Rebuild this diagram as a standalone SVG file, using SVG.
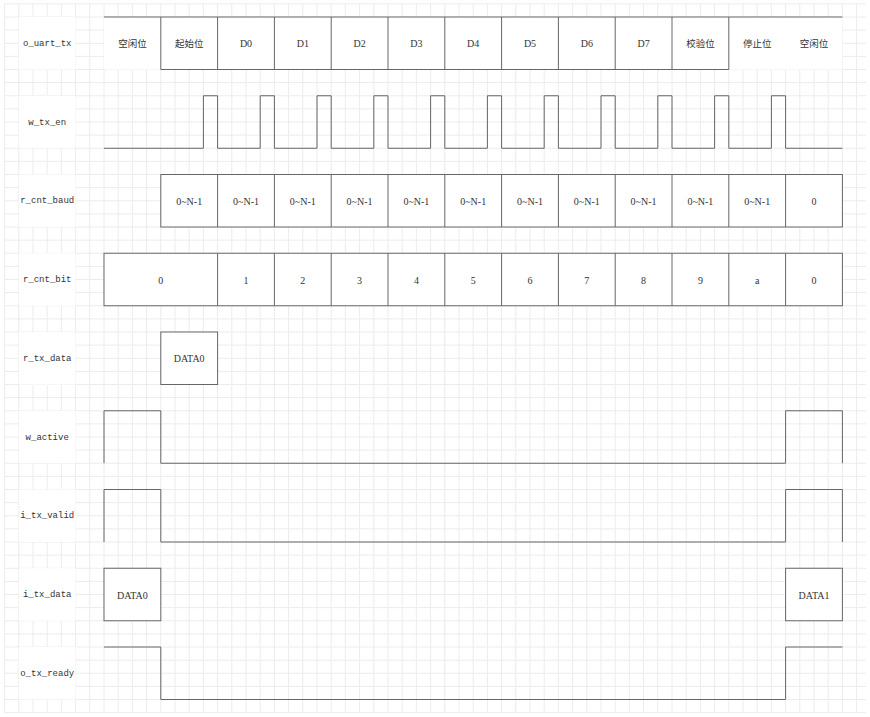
<svg xmlns="http://www.w3.org/2000/svg" width="870" height="717" viewBox="0 0 870 717">
<style>
.grid{fill:none;stroke:#ececec;stroke-width:1}
.w{fill:none;stroke:#666;stroke-width:1}
.box{fill:#fff;stroke:#666;stroke-width:1}
.bg{fill:#fff;stroke:none}
.t{font-family:"Liberation Mono",monospace;font-size:9px;fill:#333;text-anchor:middle;dominant-baseline:central}
.v{font-family:"Liberation Serif",serif;font-size:10px;fill:#333;text-anchor:middle;dominant-baseline:central}
.c{font-family:"Noto Sans CJK SC",sans-serif;font-size:9.5px;fill:#333;text-anchor:middle;dominant-baseline:central}
</style>
<rect width="870" height="717" fill="#fff"/>
<g id="grid">
<path class="grid" d="M4.6 3.9V712.65M18.8 3.9V712.65M33 3.9V712.65M47.2 3.9V712.65M61.4 3.9V712.65M75.6 3.9V712.65M89.8 3.9V712.65M104 3.9V712.65M118.2 3.9V712.65M132.4 3.9V712.65M146.6 3.9V712.65M160.8 3.9V712.65M175 3.9V712.65M189.2 3.9V712.65M203.4 3.9V712.65M217.6 3.9V712.65M231.8 3.9V712.65M246 3.9V712.65M260.2 3.9V712.65M274.4 3.9V712.65M288.6 3.9V712.65M302.8 3.9V712.65M317 3.9V712.65M331.2 3.9V712.65M345.4 3.9V712.65M359.6 3.9V712.65M373.8 3.9V712.65M388 3.9V712.65M402.2 3.9V712.65M416.4 3.9V712.65M430.6 3.9V712.65M444.8 3.9V712.65M459 3.9V712.65M473.2 3.9V712.65M487.4 3.9V712.65M501.6 3.9V712.65M515.8 3.9V712.65M530 3.9V712.65M544.2 3.9V712.65M558.4 3.9V712.65M572.6 3.9V712.65M586.8 3.9V712.65M601 3.9V712.65M615.2 3.9V712.65M629.4 3.9V712.65M643.6 3.9V712.65M657.8 3.9V712.65M672 3.9V712.65M686.2 3.9V712.65M700.4 3.9V712.65M714.6 3.9V712.65M728.8 3.9V712.65M743 3.9V712.65M757.2 3.9V712.65M771.4 3.9V712.65M785.6 3.9V712.65M799.8 3.9V712.65M814 3.9V712.65M828.2 3.9V712.65M842.4 3.9V712.65M856.6 3.9V712.65
M4.6 3.9H866M4.6 17H866M4.6 30.15H866M4.6 43.3H866M4.6 56.4H866M4.6 69.5H866M4.6 82.65H866M4.6 95.75H866M4.6 108.9H866M4.6 122H866M4.6 135.15H866M4.6 148.25H866M4.6 161.4H866M4.6 174.5H866M4.6 187.65H866M4.6 200.75H866M4.6 213.9H866M4.6 227H866M4.6 240.15H866M4.6 253.25H866M4.6 266.4H866M4.6 279.5H866M4.6 292.65H866M4.6 305.75H866M4.6 318.9H866M4.6 332H866M4.6 345.15H866M4.6 358.25H866M4.6 371.4H866M4.6 384.5H866M4.6 397.65H866M4.6 410.75H866M4.6 423.9H866M4.6 437H866M4.6 450.15H866M4.6 463.25H866M4.6 476.4H866M4.6 489.5H866M4.6 502.65H866M4.6 515.75H866M4.6 528.9H866M4.6 542H866M4.6 555.15H866M4.6 568.25H866M4.6 581.4H866M4.6 594.5H866M4.6 607.65H866M4.6 620.75H866M4.6 633.9H866M4.6 647H866M4.6 660.15H866M4.6 673.25H866M4.6 686.4H866M4.6 699.5H866M4.6 712.65H866"/>
</g>
<g id="labels">
<g id="label-o_uart_tx"><rect class="bg" x="18.8" y="17" width="56.8" height="52.5"/><text class="t" x="47.2" y="43.75">o_uart_tx</text></g>
<g id="label-w_tx_en"><rect class="bg" x="18.8" y="95.75" width="56.8" height="52.5"/><text class="t" x="47.2" y="122.5">w_tx_en</text></g>
<g id="label-r_cnt_baud"><rect class="bg" x="18.8" y="174.5" width="56.8" height="52.5"/><text class="t" x="47.2" y="201.25">r_cnt_baud</text></g>
<g id="label-r_cnt_bit"><rect class="bg" x="18.8" y="253.25" width="56.8" height="52.5"/><text class="t" x="47.2" y="280">r_cnt_bit</text></g>
<g id="label-r_tx_data"><rect class="bg" x="18.8" y="332" width="56.8" height="52.5"/><text class="t" x="47.2" y="358.75">r_tx_data</text></g>
<g id="label-w_active"><rect class="bg" x="18.8" y="410.75" width="56.8" height="52.5"/><text class="t" x="47.2" y="437.5">w_active</text></g>
<g id="label-i_tx_valid"><rect class="bg" x="18.8" y="489.5" width="56.8" height="52.5"/><text class="t" x="47.2" y="516.25">i_tx_valid</text></g>
<g id="label-i_tx_data"><rect class="bg" x="18.8" y="568.25" width="56.8" height="52.5"/><text class="t" x="47.2" y="595">i_tx_data</text></g>
<g id="label-o_tx_ready"><rect class="bg" x="18.8" y="647" width="56.8" height="52.5"/><text class="t" x="47.2" y="673.75">o_tx_ready</text></g>
</g>
<g id="connectors"></g>
<g id="sig-o_uart_tx">
<rect class="bg" x="104" y="17" width="738.4" height="52.5"/>
<path class="w" d="M104 17H842.4M160.8 17V69.5H728.8V17M217.6 17V69.5M274.4 17V69.5M331.2 17V69.5M388 17V69.5M444.8 17V69.5M501.6 17V69.5M558.4 17V69.5M615.2 17V69.5M672 17V69.5"/>
<text class="c" x="132.4" y="43.25">空闲位</text>
<text class="c" x="189.2" y="43.25">起始位</text>
<text class="v" x="246" y="43.75">D0</text>
<text class="v" x="302.8" y="43.75">D1</text>
<text class="v" x="359.6" y="43.75">D2</text>
<text class="v" x="416.4" y="43.75">D3</text>
<text class="v" x="473.2" y="43.75">D4</text>
<text class="v" x="530" y="43.75">D5</text>
<text class="v" x="586.8" y="43.75">D6</text>
<text class="v" x="643.6" y="43.75">D7</text>
<text class="c" x="700.4" y="43.25">校验位</text>
<text class="c" x="757.2" y="43.25">停止位</text>
<text class="c" x="814" y="43.25">空闲位</text>
</g>
<g id="sig-w_tx_en">
<path class="w" d="M104 148.25H203.4V95.75H217.6V148.25H260.2V95.75H274.4V148.25H317V95.75H331.2V148.25H373.8V95.75H388V148.25H430.6V95.75H444.8V148.25H487.4V95.75H501.6V148.25H544.2V95.75H558.4V148.25H601V95.75H615.2V148.25H657.8V95.75H672V148.25H714.6V95.75H728.8V148.25H771.4V95.75H785.6V148.25H842.4"/>
</g>
<g id="sig-r_cnt_baud">
<rect class="box" x="160.8" y="174.5" width="681.6" height="52.5"/>
<path class="w" d="M217.6 174.5V227M274.4 174.5V227M331.2 174.5V227M388 174.5V227M444.8 174.5V227M501.6 174.5V227M558.4 174.5V227M615.2 174.5V227M672 174.5V227M728.8 174.5V227M785.6 174.5V227"/>
<text class="v" x="189.2" y="201.25">0~N-1</text>
<text class="v" x="246" y="201.25">0~N-1</text>
<text class="v" x="302.8" y="201.25">0~N-1</text>
<text class="v" x="359.6" y="201.25">0~N-1</text>
<text class="v" x="416.4" y="201.25">0~N-1</text>
<text class="v" x="473.2" y="201.25">0~N-1</text>
<text class="v" x="530" y="201.25">0~N-1</text>
<text class="v" x="586.8" y="201.25">0~N-1</text>
<text class="v" x="643.6" y="201.25">0~N-1</text>
<text class="v" x="700.4" y="201.25">0~N-1</text>
<text class="v" x="757.2" y="201.25">0~N-1</text>
<text class="v" x="814" y="201.25">0</text>
</g>
<g id="sig-r_cnt_bit">
<rect class="box" x="104" y="253.25" width="738.4" height="52.5"/>
<path class="w" d="M217.6 253.25V305.75M274.4 253.25V305.75M331.2 253.25V305.75M388 253.25V305.75M444.8 253.25V305.75M501.6 253.25V305.75M558.4 253.25V305.75M615.2 253.25V305.75M672 253.25V305.75M728.8 253.25V305.75M785.6 253.25V305.75"/>
<text class="v" x="160.8" y="280">0</text>
<text class="v" x="246" y="280">1</text>
<text class="v" x="302.8" y="280">2</text>
<text class="v" x="359.6" y="280">3</text>
<text class="v" x="416.4" y="280">4</text>
<text class="v" x="473.2" y="280">5</text>
<text class="v" x="530" y="280">6</text>
<text class="v" x="586.8" y="280">7</text>
<text class="v" x="643.6" y="280">8</text>
<text class="v" x="700.4" y="280">9</text>
<text class="v" x="757.2" y="280">a</text>
<text class="v" x="814" y="280">0</text>
</g>
<g id="sig-r_tx_data">
<rect class="box" x="160.8" y="332" width="56.8" height="52.5"/>
<text class="v" x="189.2" y="358.75">DATA0</text>
</g>
<g id="sig-w_active">
<path class="w" d="M104 463.25V410.75H160.8V463.25H785.6V410.75H842.4V463.25"/>
</g>
<g id="sig-i_tx_valid">
<path class="w" d="M104 542V489.5H160.8V542H785.6V489.5H842.4V542"/>
</g>
<g id="sig-i_tx_data">
<rect class="box" x="104" y="568.25" width="56.8" height="52.5"/>
<text class="v" x="132.4" y="595">DATA0</text>
<rect class="box" x="785.6" y="568.25" width="56.8" height="52.5"/>
<text class="v" x="814" y="595">DATA1</text>
</g>
<g id="sig-o_tx_ready">
<path class="w" d="M104 647H160.8V699.5H785.6V647H842.4"/>
</g>
</svg>
